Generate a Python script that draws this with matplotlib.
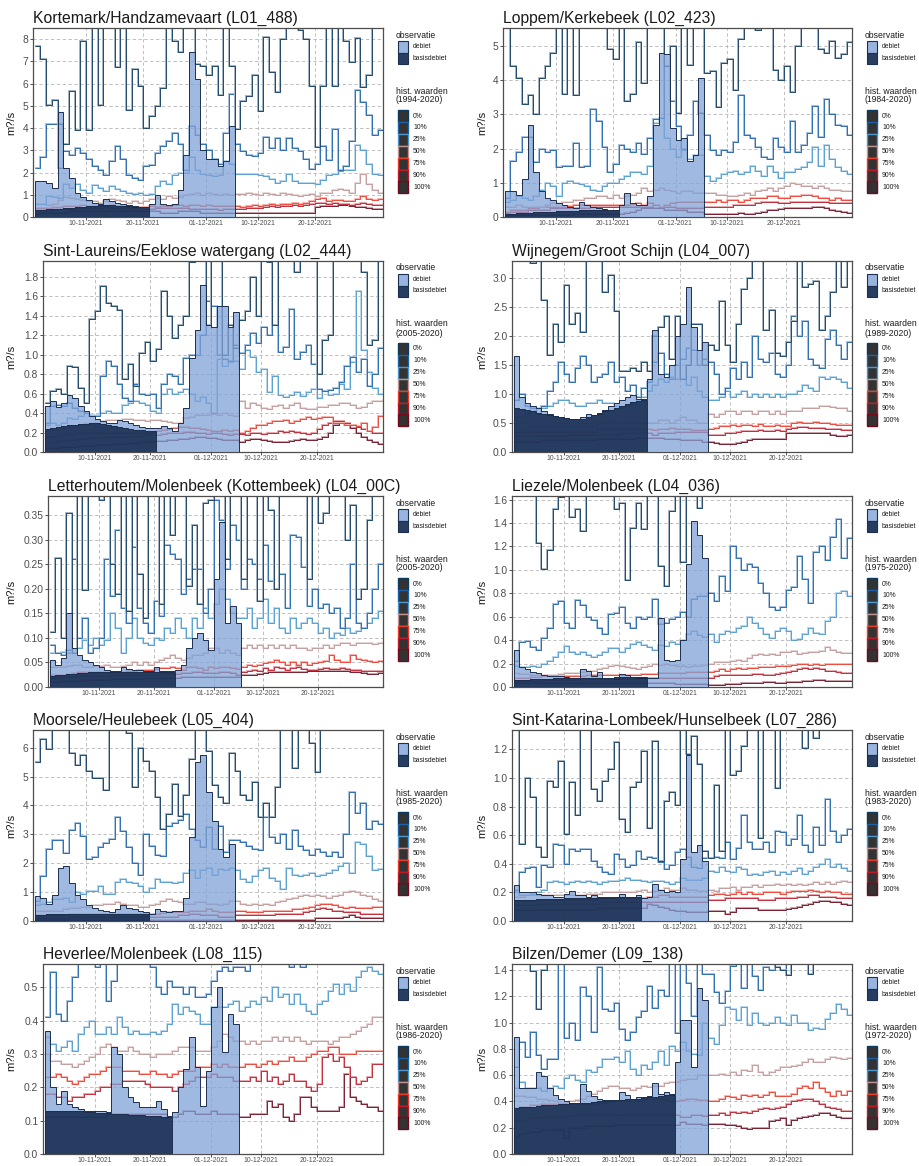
import numpy as np
import matplotlib
matplotlib.use('Agg')
import matplotlib.pyplot as plt
import matplotlib.patheffects as pe
from matplotlib.patches import Rectangle
from matplotlib.colors import to_rgb

plt.rcParams['font.family'] = ['Liberation Sans', 'DejaVu Sans']

# --- data -------------------------------------------------------------
start = np.datetime64('2021-11-01')
tick_dates = ['2021-11-10', '2021-11-20', '2021-12-01', '2021-12-10', '2021-12-20']
tick_labels = ['10-11-2021', '20-11-2021', '01-12-2021', '10-12-2021', '20-12-2021']
pct_labels = ['0%', '10%', '25%', '50%', '75%', '90%', '100%']

titles = ['Kortemark/Handzamevaart (L01_488)', 'Loppem/Kerkebeek (L02_423)',
          'Sint-Laureins/Eeklose watergang (L02_444)', 'Wijnegem/Groot Schijn (L04_007)',
          'Letterhoutem/Molenbeek (Kottembeek) (L04_00C)', 'Liezele/Molenbeek (L04_036)',
          'Moorsele/Heulebeek (L05_404)', 'Sint-Katarina-Lombeek/Hunselbeek (L07_286)',
          'Heverlee/Molenbeek (L08_115)', 'Bilzen/Demer (L09_138)']
hist_years = ['1994-2020', '1984-2020', '2005-2020', '1989-2020', '2005-2020',
              '1975-2020', '1985-2020', '1983-2020', '1986-2020', '1972-2020']

# L01_488
s488_q0 = [7.7, 7.1, 5.05, 5.25, 4.2, 3.3, 5.65, 3.9, 7.9, 3.9,
           10, 5.05, 10, 10, 6.75, 10, 4.8, 6.65, 5.9, 4.0,
           4.55, 5.0, 5.8, 10, 7.9, 7.4, 10, 10, 6.9, 6.8,
           6.4, 6.8, 5.5, 10, 6.8, 3.95, 5.2, 5.45, 6.4, 4.75,
           8.1, 6.5, 5.6, 8.0, 10, 8.5, 8.4, 8.0, 5.9, 3.15,
           5.9, 10, 5.9, 10, 7.9, 6.95, 8.05, 5.85, 6.4, 10, 10]
s488_q10 = [2.2, 2.7, 4.2, 4.2, 2.2, 2.95, 2.8, 3.1, 2.9, 2.6,
            2.3, 2.1, 1.9, 2.5, 3.2, 2.6, 1.9, 1.75, 1.65, 2.3,
            2.35, 2.9, 3.2, 3.4, 3.8, 3.3, 2.1, 4.1, 3.7, 3.3,
            3.0, 2.6, 2.4, 3.8, 5.55, 3.3, 2.95, 2.8, 2.75, 2.9,
            3.6, 3.1, 3.55, 3.0, 3.55, 3.1, 2.95, 2.6, 2.15, 2.4,
            3.2, 2.55, 3.95, 2.1, 2.3, 3.4, 5.7, 5.15, 4.6, 3.7, 3.9]
s488_q25 = [0.6, 0.6, 0.95, 0.9, 0.85, 1.5, 1.3, 1.5, 1.2, 1.1,
            1.45, 1.3, 1.15, 1.4, 1.25, 1.15, 1.1, 1.05, 1.1, 1.0,
            1.05, 1.4, 1.6, 1.5, 1.9, 2.0, 2.0, 2.7, 2.1, 1.95,
            1.9, 1.85, 1.9, 2.5, 2.4, 1.95, 1.95, 1.95, 1.95, 1.9,
            1.85, 1.7, 1.55, 1.6, 1.95, 1.6, 1.55, 1.55, 1.55, 1.5,
            1.65, 1.9, 1.95, 2.05, 2.1, 2.1, 3.25, 3.0, 2.4, 1.95, 1.9]
s488_q50 = [0.6, 0.6, 0.55, 0.6, 0.75, 0.9, 0.85, 0.8, 0.75, 0.7,
            0.7, 0.65, 0.7, 0.8, 0.75, 0.7, 0.65, 0.7, 0.65, 0.7,
            0.8, 0.85, 0.8, 0.95, 0.85, 0.9, 1.0, 1.05, 1.1, 1.0,
            1.1, 1.05, 1.0, 1.05, 1.0, 1.05, 1.05, 1.1, 1.05, 1.0,
            1.1, 1.05, 1.0, 1.1, 1.05, 1.0, 0.95, 1.0, 1.05, 0.95,
            1.1, 1.1, 1.2, 1.25, 1.2, 1.1, 1.55, 1.95, 1.5, 1.2, 1.1]
s488_q75 = [0.4, 0.4, 0.4, 0.45, 0.45, 0.5, 0.5, 0.5, 0.55, 0.5,
            0.5, 0.5, 0.5, 0.55, 0.5, 0.5, 0.45, 0.45, 0.45, 0.45,
            0.5, 0.45, 0.5, 0.5, 0.55, 0.55, 0.5, 0.55, 0.55, 0.5,
            0.55, 0.5, 0.5, 0.5, 0.5, 0.5, 0.45, 0.5, 0.55, 0.5,
            0.55, 0.6, 0.55, 0.6, 0.6, 0.65, 0.6, 0.65, 0.7, 0.8,
            0.85, 0.7, 0.75, 0.75, 0.7, 0.7, 0.8, 0.95, 0.8, 0.75, 0.8]
s488_q90 = [0.3, 0.3, 0.3, 0.35, 0.35, 0.35, 0.35, 0.4, 0.4, 0.4,
            0.4, 0.4, 0.45, 0.4, 0.4, 0.4, 0.35, 0.4, 0.4, 0.35,
            0.35, 0.4, 0.4, 0.4, 0.4, 0.4, 0.4, 0.35, 0.35, 0.35,
            0.35, 0.35, 0.3, 0.35, 0.35, 0.35, 0.35, 0.4, 0.4, 0.4,
            0.45, 0.5, 0.45, 0.5, 0.5, 0.55, 0.5, 0.55, 0.6, 0.65,
            0.65, 0.6, 0.65, 0.6, 0.6, 0.55, 0.6, 0.65, 0.6, 0.55, 0.55]
s488_q100 = [0.15, 0.2, 0.2, 0.2, 0.2, 0.2, 0.25, 0.25, 0.25, 0.25,
             0.25, 0.25, 0.25, 0.25, 0.25, 0.25, 0.25, 0.25, 0.25, 0.25,
             0.25, 0.25, 0.2, 0.2, 0.2, 0.25, 0.25, 0.25, 0.25, 0.2,
             0.2, 0.2, 0.2, 0.2, 0.2, 0.2, 0.2, 0.2, 0.2, 0.2,
             0.2, 0.2, 0.2, 0.2, 0.2, 0.2, 0.2, 0.2, 0.2, 0.45,
             0.5, 0.5, 0.5, 0.55, 0.55, 0.5, 0.45, 0.45, 0.4, 0.35, 0.35]
s488_debiet = [1.6, 1.6, 1.55, 1.3, 4.7, 2.2, 1.75, 1.1, 0.9, 0.75,
               0.65, 0.6, 0.8, 0.7, 0.65, 0.6, 0.55, 0.5, 0.45, 0.45,
               0.6, 1.0, 0.6, 0.55, 0.6, 1.2, 2.8, 7.4, 6.2, 3.0,
               2.6, 2.6, 2.3, 2.5, 4.1]
s488_basis = [0.3, 0.32, 0.34, 0.36, 0.38, 0.4, 0.42, 0.44, 0.46, 0.48,
              0.5, 0.52, 0.53, 0.52, 0.5, 0.49, 0.48, 0.47, 0.46, 0.45]

# L02_423
s423_q0 = [10, 4.4, 4.05, 3.3, 3.55, 3.0, 4.05, 4.4, 4.8, 10,
           3.6, 10, 3.55, 10, 10, 10, 10, 10, 4.9, 4.6,
           10, 3.4, 3.6, 5.1, 3.9, 10, 10, 10, 4.4, 5.0,
           3.05, 10, 4.45, 10, 10, 4.2, 4.25, 3.2, 4.5, 4.6,
           3.7, 5.2, 10, 10, 5.45, 10, 10, 4.3, 4.0, 4.4,
           3.65, 5.0, 10, 10, 10, 4.9, 4.8, 5.15, 4.65, 4.75, 5.1]
s423_q10 = [0.55, 1.65, 1.9, 2.35, 2.35, 1.6, 2.0, 1.9, 1.95, 1.45,
            1.5, 1.5, 2.15, 1.45, 1.5, 3.15, 2.8, 2.05, 1.3, 1.55,
            2.1, 2.0, 1.9, 2.15, 1.85, 2.3, 2.85, 2.9, 4.4, 3.4,
            2.65, 2.0, 2.4, 3.4, 3.05, 2.4, 1.95, 1.8, 1.95, 1.9,
            2.2, 3.55, 2.4, 2.3, 2.05, 1.75, 1.7, 2.3, 2.05, 1.9,
            2.8, 1.9, 2.1, 2.45, 3.25, 2.35, 3.45, 3.0, 2.7, 2.65, 2.4]
s423_q25 = [0.45, 0.5, 0.6, 0.55, 0.5, 0.6, 0.8, 1.0, 0.9, 0.6,
            1.0, 1.05, 1.0, 0.95, 0.9, 0.8, 0.75, 0.9, 1.0, 1.0,
            1.1, 1.2, 1.3, 1.3, 1.25, 1.5, 2.75, 2.9, 2.3, 2.0,
            1.75, 1.95, 1.7, 1.8, 1.8, 1.2, 1.05, 1.15, 1.25, 1.3,
            1.35, 1.25, 1.3, 1.5, 1.35, 1.2, 1.5, 1.3, 1.15, 1.3,
            1.3, 1.4, 1.45, 1.6, 2.05, 1.5, 2.1, 1.7, 1.45, 1.35, 1.25]
s423_q50 = [0.3, 0.3, 0.35, 0.3, 0.3, 0.3, 0.3, 0.35, 0.4, 0.4,
            0.45, 0.45, 0.5, 0.5, 0.55, 0.55, 0.6, 0.6, 0.55, 0.65,
            0.55, 0.6, 0.65, 0.7, 0.85, 0.75, 0.8, 0.85, 0.8, 0.75,
            0.7, 0.75, 0.75, 0.7, 0.7, 0.7, 0.7, 0.65, 0.65, 0.6,
            0.6, 0.65, 0.7, 0.65, 0.75, 0.8, 0.85, 0.75, 0.85, 0.9,
            1.0, 0.95, 0.9, 0.9, 0.85, 0.9, 0.85, 0.8, 0.8, 0.75, 0.75]
s423_q75 = [0.15, 0.2, 0.2, 0.2, 0.25, 0.25, 0.3, 0.3, 0.3, 0.3,
            0.3, 0.32, 0.35, 0.35, 0.35, 0.35, 0.35, 0.35, 0.35, 0.35,
            0.35, 0.35, 0.38, 0.4, 0.35, 0.4, 0.35, 0.3, 0.35, 0.4,
            0.45, 0.45, 0.45, 0.45, 0.45, 0.45, 0.45, 0.5, 0.45, 0.5,
            0.5, 0.45, 0.5, 0.55, 0.55, 0.55, 0.6, 0.6, 0.55, 0.55,
            0.6, 0.6, 0.65, 0.65, 0.6, 0.55, 0.55, 0.5, 0.55, 0.5, 0.5]
s423_q90 = [0.12, 0.15, 0.15, 0.15, 0.2, 0.2, 0.2, 0.2, 0.25, 0.25,
            0.25, 0.25, 0.25, 0.25, 0.25, 0.3, 0.3, 0.3, 0.3, 0.3,
            0.3, 0.3, 0.3, 0.3, 0.3, 0.3, 0.35, 0.3, 0.3, 0.3,
            0.25, 0.25, 0.25, 0.25, 0.25, 0.3, 0.3, 0.3, 0.3, 0.3,
            0.35, 0.35, 0.35, 0.35, 0.4, 0.45, 0.45, 0.45, 0.4, 0.4,
            0.45, 0.45, 0.45, 0.45, 0.45, 0.45, 0.45, 0.4, 0.4, 0.4, 0.4]
s423_q100 = [0.05, 0.05, 0.05, 0.05, 0.06, 0.06, 0.06, 0.06, 0.07, 0.07,
             0.07, 0.07, 0.08, 0.08, 0.08, 0.08, 0.08, 0.08, 0.08, 0.08,
             0.1, 0.12, 0.15, 0.2, 0.25, 0.25, 0.25, 0.25, 0.2, 0.2,
             0.2, 0.2, 0.15, 0.15, 0.15, 0.1, 0.08, 0.08, 0.08, 0.08,
             0.1, 0.12, 0.1, 0.1, 0.12, 0.15, 0.2, 0.2, 0.22, 0.25,
             0.25, 0.25, 0.25, 0.25, 0.3, 0.3, 0.25, 0.2, 0.18, 0.15, 0.12]
s423_debiet = [0.75, 0.75, 0.65, 1.1, 2.7, 1.3, 0.75, 0.55, 0.5, 0.4,
               0.35, 0.3, 0.25, 0.45, 0.35, 0.3, 0.25, 0.22, 0.2, 0.2,
               0.35, 0.7, 0.4, 0.35, 0.35, 0.6, 2.7, 4.8, 4.75, 2.6,
               2.25, 2.3, 1.65, 1.8, 4.05]
s423_basis = [0.1, 0.1, 0.11, 0.12, 0.13, 0.14, 0.15, 0.16, 0.16, 0.17,
              0.17, 0.18, 0.18, 0.19, 0.19, 0.2, 0.2, 0.2, 0.2, 0.2]

# L02_444
s444_q0 = [0.5, 0.63, 0.65, 0.6, 0.88, 0.87, 0.66, 0.5, 1.36, 1.45,
           1.7, 1.53, 1.5, 1.46, 0.75, 0.9, 0.68, 1.02, 1.13, 0.93,
           1.06, 1.65, 1.4, 1.17, 1.3, 1.4, 1.95, 10, 10, 1.3,
           10, 10, 1.0, 1.3, 1.07, 1.35, 1.45, 1.8, 1.4, 10,
           1.95, 1.3, 10, 10, 10, 1.85, 10, 10, 10, 0.8,
           1.15, 1.2, 10, 10, 10, 10, 10, 1.85, 1.1, 1.15, 10]
s444_q10 = [0.3, 0.47, 0.48, 0.47, 0.5, 0.45, 0.42, 0.4, 0.37, 0.37,
            0.78, 0.93, 0.88, 0.7, 0.55, 0.52, 0.7, 0.6, 0.58, 0.6,
            0.45, 0.7, 0.8, 0.78, 0.7, 0.96, 1.0, 1.0, 1.2, 1.55,
            1.5, 1.0, 0.95, 0.93, 1.1, 1.02, 1.1, 1.22, 1.12, 1.28,
            1.2, 1.3, 1.03, 1.08, 1.47, 0.95, 1.03, 1.1, 0.9, 0.65,
            0.63, 0.64, 0.66, 0.72, 0.88, 0.98, 0.82, 0.95, 0.68, 0.8, 1.07]
s444_q25 = [0.28, 0.3, 0.28, 0.3, 0.35, 0.34, 0.37, 0.4, 0.38, 0.38,
            0.4, 0.42, 0.4, 0.4, 0.48, 0.5, 0.52, 0.5, 0.48, 0.42,
            0.4, 0.6, 0.65, 0.6, 0.62, 0.65, 0.6, 0.52, 0.56, 0.5,
            0.4, 0.95, 0.88, 0.92, 0.93, 0.85, 1.05, 0.98, 0.82, 0.85,
            0.62, 0.78, 0.58, 0.56, 0.59, 0.62, 0.57, 0.62, 0.65, 0.55,
            0.63, 0.59, 0.6, 0.7, 0.65, 0.92, 1.65, 1.05, 0.82, 0.66, 0.6]
s444_q50 = [0.22, 0.23, 0.24, 0.25, 0.25, 0.27, 0.28, 0.3, 0.3, 0.3,
            0.32, 0.33, 0.33, 0.33, 0.34, 0.34, 0.33, 0.33, 0.32, 0.33,
            0.33, 0.32, 0.31, 0.3, 0.3, 0.35, 0.36, 0.38, 0.38, 0.38,
            0.39, 0.38, 0.4, 0.38, 0.37, 0.52, 0.45, 0.5, 0.48, 0.45,
            0.44, 0.47, 0.48, 0.45, 0.48, 0.5, 0.45, 0.44, 0.44, 0.46,
            0.46, 0.48, 0.48, 0.5, 0.5, 0.48, 0.45, 0.46, 0.5, 0.52, 0.52]
s444_q75 = [0.15, 0.15, 0.16, 0.17, 0.18, 0.18, 0.19, 0.2, 0.2, 0.2,
            0.2, 0.2, 0.2, 0.2, 0.2, 0.2, 0.2, 0.2, 0.2, 0.21,
            0.22, 0.23, 0.24, 0.25, 0.26, 0.26, 0.25, 0.25, 0.24, 0.23,
            0.22, 0.22, 0.23, 0.22, 0.23, 0.2, 0.22, 0.25, 0.28, 0.28,
            0.3, 0.32, 0.32, 0.33, 0.3, 0.32, 0.34, 0.36, 0.34, 0.35,
            0.36, 0.36, 0.3, 0.3, 0.28, 0.28, 0.27, 0.3, 0.22, 0.26, 0.37]
s444_q90 = [0.1, 0.1, 0.11, 0.11, 0.12, 0.12, 0.13, 0.13, 0.14, 0.14,
            0.14, 0.15, 0.15, 0.15, 0.15, 0.15, 0.16, 0.16, 0.17, 0.17,
            0.17, 0.18, 0.19, 0.2, 0.2, 0.21, 0.21, 0.2, 0.19, 0.18,
            0.2, 0.2, 0.18, 0.17, 0.18, 0.18, 0.17, 0.19, 0.2, 0.18,
            0.19, 0.2, 0.22, 0.21, 0.22, 0.21, 0.19, 0.18, 0.2, 0.24,
            0.28, 0.3, 0.32, 0.32, 0.3, 0.28, 0.26, 0.24, 0.22, 0.2, 0.2]
s444_q100 = [0.04, 0.04, 0.04, 0.05, 0.05, 0.05, 0.06, 0.06, 0.06, 0.07,
             0.07, 0.07, 0.08, 0.08, 0.08, 0.09, 0.09, 0.1, 0.1, 0.1,
             0.11, 0.11, 0.12, 0.12, 0.13, 0.13, 0.14, 0.15, 0.15, 0.14,
             0.14, 0.13, 0.12, 0.12, 0.12, 0.1, 0.12, 0.13, 0.13, 0.12,
             0.11, 0.1, 0.1, 0.1, 0.11, 0.12, 0.13, 0.12, 0.12, 0.13,
             0.15, 0.2, 0.28, 0.3, 0.3, 0.25, 0.2, 0.15, 0.12, 0.1, 0.08]
s444_debiet = [0.47, 0.52, 0.46, 0.5, 0.58, 0.55, 0.47, 0.42, 0.37, 0.34,
               0.32, 0.3, 0.3, 0.33, 0.32, 0.3, 0.28, 0.26, 0.25, 0.25,
               0.25, 0.27, 0.25, 0.22, 0.3, 0.45, 0.96, 1.25, 1.71, 1.3,
               1.28, 1.5, 1.5, 1.28, 1.44]
s444_basis = [0.24, 0.25, 0.26, 0.27, 0.28, 0.28, 0.29, 0.29, 0.3, 0.3,
              0.29, 0.28, 0.27, 0.26, 0.25, 0.24, 0.23, 0.23, 0.22, 0.22]

# L04_007
s007_q0 = [10, 10, 10, 3.25, 10, 2.62, 1.67, 2.2, 1.9, 2.87,
           2.2, 2.4, 2.07, 10, 10, 10, 2.75, 3.05, 2.43, 1.4,
           1.4, 1.45, 1.4, 1.55, 1.4, 2.0, 2.15, 2.35, 1.6, 2.35,
           1.25, 1.5, 2.2, 2.2, 1.5, 1.85, 1.75, 2.6, 1.85, 1.55,
           2.2, 2.8, 3.0, 10, 10, 2.1, 2.45, 1.7, 1.65, 1.9,
           2.25, 10, 2.85, 2.9, 2.95, 2.1, 2.35, 2.75, 10, 2.85, 10]
s007_q10 = [0.9, 1.0, 0.8, 0.75, 0.65, 0.8, 1.05, 1.2, 1.55, 1.35,
            1.2, 1.45, 1.65, 1.5, 1.2, 1.3, 1.35, 1.55, 1.2, 1.3,
            1.05, 1.15, 0.95, 1.1, 1.2, 1.55, 1.7, 1.35, 1.25, 1.5,
            1.6, 1.8, 1.75, 1.5, 1.6, 1.55, 1.35, 1.0, 1.1, 1.45,
            1.25, 1.55, 1.3, 2.0, 1.6, 1.55, 1.7, 1.35, 1.3, 1.5,
            2.35, 2.0, 2.25, 1.6, 1.5, 1.45, 1.95, 2.1, 1.85, 1.6, 1.9]
s007_q25 = [0.6, 0.6, 0.65, 0.7, 0.75, 0.75, 0.8, 0.85, 0.9, 0.9,
            0.85, 0.8, 0.8, 0.85, 0.85, 0.9, 0.85, 0.85, 0.8, 0.75,
            0.8, 0.85, 0.9, 0.95, 1.05, 1.15, 1.25, 1.2, 1.3, 1.25,
            1.25, 1.15, 1.3, 1.05, 0.95, 0.9, 0.9, 0.95, 1.05, 0.95,
            1.0, 1.05, 0.95, 1.0, 0.95, 1.0, 0.95, 1.0, 0.95, 1.0,
            1.0, 1.05, 1.15, 1.1, 1.05, 1.3, 1.25, 1.3, 1.25, 1.2, 1.1]
s007_q50 = [0.5, 0.5, 0.5, 0.45, 0.45, 0.45, 0.45, 0.45, 0.45, 0.5,
            0.45, 0.45, 0.5, 0.45, 0.45, 0.5, 0.5, 0.55, 0.5, 0.5,
            0.5, 0.5, 0.5, 0.5, 0.5, 0.5, 0.55, 0.55, 0.5, 0.55,
            0.6, 0.55, 0.55, 0.5, 0.5, 0.65, 0.6, 0.65, 0.7, 0.7,
            0.65, 0.7, 0.7, 0.65, 0.7, 0.7, 0.65, 0.7, 0.65, 0.7,
            0.7, 0.7, 0.75, 0.75, 0.75, 0.8, 0.8, 0.78, 0.75, 0.75, 0.7]
s007_q75 = [0.35, 0.35, 0.35, 0.35, 0.35, 0.35, 0.35, 0.35, 0.35, 0.35,
            0.35, 0.35, 0.35, 0.35, 0.35, 0.4, 0.4, 0.4, 0.4, 0.4,
            0.4, 0.4, 0.4, 0.4, 0.4, 0.38, 0.4, 0.4, 0.42, 0.4,
            0.4, 0.4, 0.38, 0.38, 0.38, 0.4, 0.42, 0.45, 0.45, 0.47,
            0.45, 0.47, 0.47, 0.45, 0.48, 0.45, 0.45, 0.47, 0.45, 0.45,
            0.5, 0.52, 0.5, 0.5, 0.52, 0.5, 0.5, 0.48, 0.47, 0.47, 0.47]
s007_q90 = [0.28, 0.28, 0.28, 0.28, 0.28, 0.28, 0.28, 0.28, 0.28, 0.28,
            0.3, 0.3, 0.3, 0.3, 0.3, 0.3, 0.3, 0.3, 0.3, 0.32,
            0.32, 0.32, 0.33, 0.35, 0.32, 0.3, 0.32, 0.32, 0.33, 0.35,
            0.35, 0.35, 0.35, 0.35, 0.35, 0.3, 0.3, 0.3, 0.32, 0.33,
            0.35, 0.37, 0.36, 0.37, 0.38, 0.36, 0.37, 0.38, 0.37, 0.4,
            0.42, 0.43, 0.43, 0.42, 0.42, 0.42, 0.4, 0.4, 0.4, 0.38, 0.38]
s007_q100 = [0.18, 0.18, 0.18, 0.18, 0.18, 0.2, 0.2, 0.2, 0.2, 0.2,
             0.2, 0.2, 0.2, 0.2, 0.2, 0.22, 0.22, 0.22, 0.22, 0.22,
             0.22, 0.22, 0.24, 0.24, 0.24, 0.24, 0.24, 0.22, 0.22, 0.22,
             0.2, 0.2, 0.2, 0.2, 0.18, 0.17, 0.15, 0.13, 0.13, 0.13,
             0.15, 0.17, 0.2, 0.22, 0.22, 0.22, 0.22, 0.22, 0.22, 0.32,
             0.33, 0.33, 0.33, 0.32, 0.32, 0.32, 0.32, 0.3, 0.28, 0.28, 0.3]
s007_debiet = [1.65, 0.95, 0.85, 0.8, 0.75, 0.7, 0.66, 0.62, 0.6, 0.58,
               0.57, 0.56, 0.6, 0.66, 0.63, 0.68, 0.72, 0.8, 0.85, 0.9,
               0.95, 0.98, 0.92, 0.92, 1.25, 2.1, 1.35, 1.3, 1.5, 2.0,
               2.2, 2.85, 2.15, 1.75, 1.9]
s007_basis = [0.75, 0.74, 0.72, 0.7, 0.68, 0.66, 0.64, 0.62, 0.6, 0.58,
              0.57, 0.56, 0.57, 0.6, 0.63, 0.66, 0.7, 0.73, 0.76, 0.8,
              0.83, 0.86, 0.88, 0.9]

# L04_00C
s00c_q0 = [0.112, 0.262, 0.1, 0.355, 0.07, 0.39, 0.197, 0.5, 0.5, 0.38,
           0.5, 0.25, 0.19, 0.5, 0.155, 0.5, 0.23, 0.14, 0.5, 0.5,
           0.17, 0.5, 0.31, 0.5, 0.5, 0.205, 0.33, 0.17, 0.375, 0.38,
           0.5, 0.5, 0.26, 0.5, 0.5, 0.22, 0.5, 0.5, 0.175, 0.5,
           0.36, 0.2, 0.5, 0.5, 0.5, 0.5, 0.5, 0.22, 0.5, 0.335,
           0.355, 0.5, 0.5, 0.5, 0.3, 0.37, 0.18, 0.2, 0.34, 0.5, 0.5]
s00c_q10 = [0.085, 0.07, 0.065, 0.075, 0.26, 0.1, 0.14, 0.07, 0.08, 0.1,
            0.26, 0.185, 0.32, 0.16, 0.13, 0.285, 0.16, 0.13, 0.11, 0.175,
            0.145, 0.29, 0.27, 0.26, 0.19, 0.22, 0.24, 0.24, 0.15, 0.2,
            0.38, 0.34, 0.24, 0.33, 0.3, 0.2, 0.26, 0.25, 0.22, 0.29,
            0.215, 0.2, 0.23, 0.16, 0.31, 0.305, 0.245, 0.165, 0.2, 0.16,
            0.17, 0.15, 0.16, 0.12, 0.14, 0.25, 0.13, 0.12, 0.15, 0.2, 0.25]
s00c_q25 = [0.07, 0.07, 0.072, 0.07, 0.07, 0.08, 0.095, 0.085, 0.1, 0.085,
            0.095, 0.15, 0.12, 0.07, 0.1, 0.14, 0.1, 0.09, 0.085, 0.1,
            0.095, 0.12, 0.11, 0.14, 0.12, 0.1, 0.14, 0.12, 0.16, 0.14,
            0.17, 0.2, 0.18, 0.15, 0.14, 0.14, 0.16, 0.12, 0.14, 0.18,
            0.13, 0.16, 0.12, 0.11, 0.14, 0.12, 0.13, 0.14, 0.13, 0.11,
            0.12, 0.1, 0.11, 0.105, 0.12, 0.11, 0.115, 0.12, 0.13, 0.14, 0.155]
s00c_q50 = [0.04, 0.04, 0.04, 0.042, 0.045, 0.045, 0.04, 0.04, 0.042, 0.042,
            0.045, 0.04, 0.04, 0.042, 0.045, 0.05, 0.045, 0.05, 0.045, 0.05,
            0.055, 0.06, 0.065, 0.06, 0.055, 0.06, 0.065, 0.065, 0.07, 0.08,
            0.08, 0.07, 0.075, 0.07, 0.065, 0.08, 0.085, 0.08, 0.085, 0.08,
            0.085, 0.08, 0.085, 0.08, 0.085, 0.08, 0.08, 0.075, 0.08, 0.08,
            0.085, 0.08, 0.085, 0.09, 0.09, 0.085, 0.09, 0.09, 0.09, 0.088, 0.09]
s00c_q75 = [0.025, 0.025, 0.025, 0.027, 0.028, 0.03, 0.03, 0.03, 0.03, 0.03,
            0.03, 0.03, 0.03, 0.03, 0.032, 0.033, 0.035, 0.035, 0.035, 0.037,
            0.038, 0.038, 0.04, 0.038, 0.035, 0.04, 0.04, 0.038, 0.035, 0.04,
            0.038, 0.04, 0.04, 0.038, 0.036, 0.04, 0.045, 0.042, 0.045, 0.048,
            0.05, 0.055, 0.05, 0.045, 0.05, 0.045, 0.05, 0.045, 0.048, 0.05,
            0.052, 0.065, 0.055, 0.05, 0.05, 0.065, 0.058, 0.055, 0.052, 0.05, 0.053]
s00c_q90 = [0.018, 0.018, 0.02, 0.02, 0.02, 0.022, 0.022, 0.022, 0.023, 0.023,
            0.023, 0.024, 0.024, 0.025, 0.025, 0.025, 0.025, 0.025, 0.025, 0.025,
            0.026, 0.026, 0.027, 0.027, 0.028, 0.028, 0.03, 0.03, 0.028, 0.028,
            0.028, 0.03, 0.03, 0.028, 0.025, 0.03, 0.033, 0.035, 0.033, 0.038,
            0.035, 0.04, 0.038, 0.035, 0.038, 0.04, 0.037, 0.035, 0.035, 0.037,
            0.038, 0.036, 0.037, 0.038, 0.036, 0.035, 0.035, 0.033, 0.033, 0.032, 0.032]
s00c_q100 = [0.01, 0.01, 0.012, 0.012, 0.013, 0.013, 0.014, 0.014, 0.015, 0.015,
             0.015, 0.016, 0.016, 0.016, 0.017, 0.017, 0.017, 0.018, 0.018, 0.018,
             0.018, 0.018, 0.019, 0.019, 0.02, 0.02, 0.02, 0.02, 0.02, 0.02,
             0.02, 0.02, 0.02, 0.02, 0.02, 0.024, 0.025, 0.025, 0.026, 0.028,
             0.03, 0.03, 0.03, 0.03, 0.03, 0.03, 0.03, 0.032, 0.032, 0.032,
             0.032, 0.032, 0.033, 0.033, 0.032, 0.03, 0.03, 0.028, 0.027, 0.027, 0.028]
s00c_debiet = [0.055, 0.045, 0.06, 0.15, 0.08, 0.065, 0.055, 0.05, 0.045, 0.04,
               0.035, 0.033, 0.033, 0.04, 0.037, 0.035, 0.034, 0.033, 0.033, 0.04,
               0.033, 0.033, 0.033, 0.035, 0.045, 0.08, 0.1, 0.11, 0.095, 0.075,
               0.22, 0.337, 0.13, 0.165, 0.13]
s00c_basis = [0.023, 0.024, 0.025, 0.026, 0.027, 0.028, 0.029, 0.03, 0.031, 0.031,
              0.031, 0.031, 0.031, 0.031, 0.031, 0.031, 0.031, 0.031, 0.031, 0.031,
              0.031, 0.031, 0.031]

# L04_036
s036_q0 = [10, 10, 10, 10, 1.23, 1.01, 1.17, 1.52, 1.62, 10,
           1.45, 1.52, 1.33, 10, 10, 10, 10, 10, 1.52, 1.57,
           0.91, 1.36, 1.57, 1.35, 10, 10, 1.03, 0.86, 1.5, 10,
           1.07, 10, 10, 1.53, 10, 10, 10, 10, 10, 10,
           1.9, 2.1, 2.0, 1.8, 2.2, 2.4, 2.0, 1.9, 2.3, 2.1,
           2.5, 2.2, 2.0, 2.6, 2.3, 2.4, 2.1, 2.7, 2.5, 2.2, 2.3]
s036_q10 = [0.22, 0.38, 0.39, 0.34, 0.32, 0.42, 0.5, 0.71, 0.73, 0.55,
            0.5, 0.74, 0.7, 0.6, 0.57, 0.5, 0.45, 0.62, 0.63, 0.68,
            0.55, 0.5, 0.6, 0.58, 0.6, 0.75, 0.54, 0.55, 0.58, 0.6,
            0.64, 0.6, 0.75, 0.78, 0.78, 0.8, 0.73, 0.95, 0.82, 1.2,
            1.1, 1.0, 1.05, 1.02, 0.89, 0.8, 0.68, 0.66, 0.68, 0.83,
            0.85, 1.12, 0.92, 0.72, 1.15, 1.2, 1.08, 1.28, 1.43, 1.1, 1.27]
s036_q25 = [0.18, 0.17, 0.17, 0.18, 0.17, 0.2, 0.22, 0.26, 0.3, 0.35,
            0.3, 0.28, 0.3, 0.27, 0.26, 0.27, 0.3, 0.33, 0.33, 0.3,
            0.33, 0.37, 0.38, 0.36, 0.34, 0.32, 0.36, 0.35, 0.38, 0.37,
            0.4, 0.45, 0.48, 0.44, 0.43, 0.45, 0.38, 0.45, 0.48, 0.47,
            0.5, 0.52, 0.6, 0.55, 0.5, 0.45, 0.42, 0.48, 0.5, 0.48,
            0.4, 0.41, 0.45, 0.5, 0.46, 0.45, 0.56, 0.6, 0.8, 0.82, 0.78]
s036_q50 = [0.12, 0.11, 0.11, 0.1, 0.1, 0.1, 0.1, 0.1, 0.11, 0.12,
            0.12, 0.12, 0.13, 0.14, 0.14, 0.15, 0.16, 0.18, 0.19, 0.18,
            0.17, 0.16, 0.15, 0.17, 0.18, 0.2, 0.19, 0.2, 0.19, 0.18,
            0.18, 0.17, 0.18, 0.18, 0.19, 0.2, 0.21, 0.21, 0.21, 0.22,
            0.23, 0.22, 0.25, 0.27, 0.28, 0.27, 0.28, 0.27, 0.3, 0.3,
            0.31, 0.28, 0.29, 0.3, 0.3, 0.31, 0.34, 0.32, 0.3, 0.29, 0.29]
s036_q75 = [0.08, 0.08, 0.08, 0.085, 0.085, 0.09, 0.09, 0.09, 0.09, 0.09,
            0.09, 0.09, 0.09, 0.1, 0.1, 0.1, 0.1, 0.1, 0.1, 0.1,
            0.1, 0.1, 0.1, 0.11, 0.11, 0.11, 0.12, 0.12, 0.12, 0.12,
            0.12, 0.13, 0.13, 0.13, 0.13, 0.13, 0.14, 0.15, 0.14, 0.15,
            0.16, 0.15, 0.16, 0.16, 0.17, 0.17, 0.17, 0.18, 0.18, 0.18,
            0.19, 0.2, 0.2, 0.19, 0.2, 0.19, 0.2, 0.2, 0.2, 0.2, 0.2]
s036_q90 = [0.05, 0.05, 0.05, 0.055, 0.055, 0.06, 0.06, 0.06, 0.06, 0.06,
            0.06, 0.06, 0.065, 0.065, 0.065, 0.07, 0.07, 0.07, 0.07, 0.07,
            0.07, 0.07, 0.075, 0.075, 0.075, 0.08, 0.08, 0.08, 0.08, 0.08,
            0.08, 0.08, 0.08, 0.08, 0.08, 0.08, 0.09, 0.1, 0.1, 0.1,
            0.1, 0.1, 0.1, 0.11, 0.11, 0.1, 0.1, 0.11, 0.12, 0.13,
            0.14, 0.15, 0.16, 0.15, 0.16, 0.15, 0.14, 0.14, 0.13, 0.12, 0.12]
s036_q100 = [0.03, 0.03, 0.03, 0.03, 0.03, 0.03, 0.03, 0.03, 0.03, 0.03,
             0.03, 0.03, 0.03, 0.03, 0.03, 0.03, 0.03, 0.03, 0.03, 0.03,
             0.03, 0.03, 0.03, 0.03, 0.03, 0.03, 0.03, 0.03, 0.03, 0.025,
             0.025, 0.025, 0.025, 0.025, 0.025, 0.02, 0.02, 0.02, 0.025, 0.025,
             0.025, 0.03, 0.03, 0.03, 0.035, 0.04, 0.04, 0.035, 0.035, 0.04,
             0.04, 0.045, 0.05, 0.055, 0.06, 0.06, 0.055, 0.055, 0.05, 0.05, 0.05]
s036_debiet = [0.32, 0.17, 0.15, 0.13, 0.12, 0.1, 0.095, 0.09, 0.09, 0.085,
               0.08, 0.075, 0.15, 0.14, 0.09, 0.13, 0.08, 0.075, 0.07, 0.11,
               0.1, 0.085, 0.08, 0.08, 0.08, 0.08, 0.59, 0.23, 0.22, 0.23,
               0.4, 1.05, 1.42, 1.3, 1.1]
s036_basis = [0.06, 0.062, 0.064, 0.066, 0.068, 0.07, 0.072, 0.074, 0.075, 0.076,
              0.077, 0.078, 0.078, 0.079, 0.08, 0.08, 0.08, 0.081, 0.082, 0.083,
              0.084, 0.085, 0.086, 0.087]

# L05_404
s404_q0 = [5.5, 6.3, 5.95, 10, 10, 10, 5.8, 5.4, 5.75, 5.2,
           4.95, 4.95, 4.55, 10, 10, 10, 6.5, 4.65, 6.0, 5.55,
           5.2, 4.3, 3.2, 3.7, 4.75, 3.65, 4.35, 5.6, 10, 10,
           5.9, 4.7, 4.3, 4.1, 5.8, 5.2, 4.35, 4.2, 4.8, 3.6,
           4.1, 3.6, 4.65, 10, 10, 5.3, 10, 10, 6.15, 5.15,
           10, 10, 10, 10, 10, 10, 10, 10, 10, 10, 10]
s404_q10 = [0.7, 1.55, 2.5, 2.8, 2.8, 2.35, 3.15, 3.4, 2.95, 2.15,
            2.2, 2.55, 2.7, 2.85, 3.6, 3.1, 2.55, 2.0, 1.6, 3.0,
            2.6, 2.3, 2.25, 3.3, 3.4, 3.5, 3.7, 3.2, 2.8, 2.55,
            3.25, 2.5, 3.3, 2.4, 2.8, 2.8, 2.75, 2.6, 2.5, 2.45,
            3.6, 2.9, 2.7, 3.0, 2.5, 3.15, 2.6, 2.45, 2.3, 2.5,
            2.4, 2.25, 2.4, 2.2, 3.0, 4.45, 3.75, 4.1, 3.2, 3.45, 3.35]
s404_q25 = [0.55, 0.6, 0.65, 0.75, 0.75, 0.8, 0.65, 1.0, 0.95, 1.05,
            1.05, 1.2, 0.95, 0.95, 1.35, 1.45, 1.35, 1.3, 1.2, 1.0,
            1.15, 1.45, 1.35, 1.35, 1.3, 1.35, 1.65, 1.75, 1.5, 1.75,
            1.85, 1.6, 1.8, 1.75, 1.85, 1.75, 1.45, 1.35, 1.55, 1.75,
            1.85, 1.5, 1.4, 1.1, 1.85, 1.6, 1.55, 1.6, 1.65, 1.55,
            1.6, 1.65, 1.75, 1.9, 2.0, 1.65, 2.75, 2.65, 2.25, 1.75, 1.8]
s404_q50 = [0.35, 0.35, 0.35, 0.35, 0.35, 0.4, 0.45, 0.45, 0.5, 0.5,
            0.55, 0.55, 0.6, 0.6, 0.65, 0.6, 0.55, 0.55, 0.5, 0.5,
            0.55, 0.6, 0.7, 0.75, 0.7, 0.65, 0.6, 0.6, 0.65, 0.65,
            0.6, 0.6, 0.55, 0.6, 0.7, 0.7, 0.6, 0.55, 0.6, 0.55,
            0.6, 0.55, 0.65, 0.7, 0.75, 0.8, 0.85, 0.9, 0.85, 0.9,
            0.85, 0.8, 0.85, 0.9, 1.0, 1.05, 1.0, 0.9, 0.85, 0.75, 0.7]
s404_q75 = [0.2, 0.2, 0.2, 0.2, 0.22, 0.22, 0.25, 0.25, 0.25, 0.25,
            0.25, 0.25, 0.25, 0.25, 0.25, 0.25, 0.25, 0.25, 0.25, 0.25,
            0.25, 0.25, 0.28, 0.3, 0.3, 0.3, 0.3, 0.35, 0.35, 0.35,
            0.4, 0.35, 0.3, 0.3, 0.3, 0.35, 0.35, 0.3, 0.3, 0.3,
            0.35, 0.35, 0.35, 0.35, 0.35, 0.4, 0.4, 0.45, 0.5, 0.55,
            0.6, 0.6, 0.55, 0.5, 0.45, 0.5, 0.45, 0.45, 0.45, 0.5, 0.5]
s404_q90 = [0.1, 0.1, 0.1, 0.12, 0.12, 0.12, 0.15, 0.15, 0.15, 0.15,
            0.15, 0.15, 0.15, 0.15, 0.15, 0.15, 0.15, 0.15, 0.15, 0.15,
            0.15, 0.15, 0.15, 0.15, 0.15, 0.2, 0.2, 0.25, 0.25, 0.2,
            0.2, 0.2, 0.15, 0.15, 0.15, 0.2, 0.2, 0.2, 0.2, 0.2,
            0.2, 0.2, 0.25, 0.25, 0.25, 0.25, 0.25, 0.3, 0.35, 0.4,
            0.45, 0.4, 0.35, 0.35, 0.3, 0.3, 0.3, 0.25, 0.25, 0.25, 0.25]
s404_q100 = [0.03, 0.03, 0.03, 0.03, 0.03, 0.04, 0.04, 0.04, 0.04, 0.04,
             0.05, 0.05, 0.05, 0.05, 0.05, 0.05, 0.05, 0.05, 0.05, 0.05,
             0.05, 0.05, 0.05, 0.05, 0.05, 0.05, 0.05, 0.05, 0.05, 0.05,
             0.05, 0.05, 0.05, 0.05, 0.05, 0.05, 0.05, 0.05, 0.05, 0.05,
             0.05, 0.05, 0.05, 0.05, 0.05, 0.05, 0.05, 0.05, 0.05, 0.1,
             0.1, 0.1, 0.1, 0.1, 0.15, 0.2, 0.15, 0.1, 0.1, 0.1, 0.1]
s404_debiet = [0.85, 0.8, 0.6, 0.9, 1.85, 1.9, 1.3, 0.9, 0.75, 0.55,
               0.45, 0.38, 0.33, 0.3, 0.4, 0.55, 0.45, 0.4, 0.35, 0.3,
               0.25, 0.4, 0.35, 0.3, 0.35, 0.35, 0.8, 2.9, 5.5, 5.75,
               4.45, 3.45, 2.5, 2.2, 2.65]
s404_basis = [0.22, 0.22, 0.23, 0.23, 0.24, 0.24, 0.25, 0.25, 0.25, 0.25,
              0.25, 0.25, 0.25, 0.25, 0.25, 0.25, 0.25, 0.25, 0.25, 0.25]

# L07_286
s286_q0 = [10, 0.54, 1.0, 0.87, 0.52, 0.45, 0.98, 0.94, 1.12, 0.61,
           0.97, 0.74, 10, 10, 0.92, 0.84, 0.98, 1.06, 1.25, 0.71,
           0.62, 0.94, 0.97, 1.19, 0.65, 1.26, 0.42, 0.84, 0.9, 0.81,
           10, 1.17, 1.29, 1.1, 0.49, 0.44, 0.95, 0.49, 10, 1.02,
           1.05, 1.22, 10, 10, 0.58, 10, 10, 0.93, 10, 10,
           10, 10, 1.21, 10, 1.28, 10, 10, 10, 10, 10, 10]
s286_q10 = [0.22, 0.34, 0.37, 0.38, 0.24, 0.39, 0.38, 0.54, 0.53, 0.4,
            0.5, 0.49, 0.5, 0.5, 0.42, 0.38, 0.34, 0.33, 0.47, 0.43,
            0.38, 0.39, 0.49, 0.43, 0.45, 0.44, 0.41, 0.36, 0.39, 0.48,
            0.5, 0.45, 0.38, 0.37, 0.44, 0.44, 0.45, 0.44, 0.55, 0.43,
            0.51, 0.74, 0.55, 0.5, 0.5, 0.55, 0.48, 0.63, 0.62, 0.53,
            0.57, 0.74, 0.53, 0.48, 0.66, 0.53, 0.85, 0.63, 0.55, 0.6, 0.64]
s286_q25 = [0.2, 0.18, 0.18, 0.19, 0.2, 0.22, 0.27, 0.28, 0.27, 0.26,
            0.27, 0.28, 0.27, 0.28, 0.27, 0.26, 0.27, 0.28, 0.28, 0.29,
            0.3, 0.29, 0.29, 0.28, 0.27, 0.28, 0.28, 0.27, 0.26, 0.27,
            0.3, 0.29, 0.29, 0.29, 0.3, 0.35, 0.34, 0.38, 0.35, 0.34,
            0.38, 0.36, 0.32, 0.33, 0.32, 0.34, 0.35, 0.32, 0.34, 0.33,
            0.35, 0.37, 0.33, 0.35, 0.38, 0.4, 0.43, 0.38, 0.4, 0.37, 0.35]
s286_q50 = [0.17, 0.17, 0.18, 0.18, 0.18, 0.18, 0.18, 0.18, 0.18, 0.18,
            0.18, 0.18, 0.18, 0.19, 0.19, 0.19, 0.2, 0.2, 0.2, 0.2,
            0.2, 0.2, 0.21, 0.22, 0.2, 0.21, 0.22, 0.23, 0.22, 0.22,
            0.23, 0.22, 0.22, 0.21, 0.21, 0.22, 0.21, 0.23, 0.23, 0.24,
            0.22, 0.24, 0.24, 0.25, 0.24, 0.25, 0.25, 0.26, 0.25, 0.26,
            0.25, 0.26, 0.25, 0.26, 0.27, 0.26, 0.27, 0.26, 0.27, 0.28, 0.27]
s286_q75 = [0.14, 0.14, 0.14, 0.14, 0.15, 0.15, 0.15, 0.15, 0.15, 0.15,
            0.15, 0.15, 0.15, 0.15, 0.15, 0.16, 0.16, 0.16, 0.16, 0.16,
            0.16, 0.16, 0.16, 0.16, 0.17, 0.17, 0.18, 0.18, 0.17, 0.17,
            0.17, 0.17, 0.17, 0.17, 0.17, 0.18, 0.19, 0.19, 0.18, 0.19,
            0.2, 0.19, 0.2, 0.19, 0.19, 0.2, 0.2, 0.2, 0.19, 0.2,
            0.21, 0.21, 0.21, 0.22, 0.21, 0.2, 0.21, 0.2, 0.2, 0.19, 0.19]
s286_q90 = [0.11, 0.11, 0.11, 0.11, 0.12, 0.12, 0.12, 0.12, 0.12, 0.12,
            0.12, 0.12, 0.12, 0.12, 0.12, 0.12, 0.13, 0.13, 0.13, 0.13,
            0.13, 0.13, 0.13, 0.13, 0.13, 0.13, 0.13, 0.13, 0.13, 0.13,
            0.13, 0.13, 0.13, 0.13, 0.13, 0.15, 0.15, 0.15, 0.16, 0.16,
            0.16, 0.16, 0.16, 0.16, 0.15, 0.15, 0.15, 0.16, 0.16, 0.16,
            0.16, 0.17, 0.17, 0.18, 0.18, 0.17, 0.17, 0.17, 0.16, 0.16, 0.16]
s286_q100 = [0.08, 0.08, 0.08, 0.08, 0.08, 0.08, 0.08, 0.08, 0.08, 0.08,
             0.08, 0.08, 0.08, 0.08, 0.08, 0.09, 0.09, 0.09, 0.09, 0.09,
             0.09, 0.09, 0.09, 0.09, 0.12, 0.11, 0.1, 0.09, 0.08, 0.07,
             0.07, 0.06, 0.06, 0.06, 0.06, 0.07, 0.07, 0.07, 0.05, 0.06,
             0.09, 0.09, 0.09, 0.09, 0.08, 0.08, 0.08, 0.075, 0.08, 0.085,
             0.09, 0.1, 0.11, 0.12, 0.13, 0.14, 0.14, 0.13, 0.13, 0.12, 0.11]
s286_debiet = [0.25, 0.2, 0.2, 0.2, 0.19, 0.18, 0.18, 0.17, 0.17, 0.19,
               0.21, 0.18, 0.18, 0.17, 0.18, 0.17, 0.17, 0.17, 0.17, 0.19,
               0.17, 0.17, 0.18, 0.16, 0.17, 0.26, 0.22, 0.2, 0.21, 0.2,
               0.43, 1.16, 0.48, 0.53, 0.42]
s286_basis = [0.15, 0.15, 0.15, 0.15, 0.155, 0.155, 0.155, 0.155, 0.155, 0.16,
              0.16, 0.16, 0.16, 0.16, 0.16, 0.16, 0.16, 0.16, 0.165, 0.165,
              0.165, 0.165, 0.165]

# L08_115
s115_q0 = [0.75, 0.8, 0.7, 0.72, 0.78, 0.85, 0.9, 0.82, 0.76, 0.8,
           0.88, 0.7, 0.75, 0.85, 0.9, 0.8, 0.78, 0.82, 0.86, 0.8,
           0.74, 0.7, 0.76, 0.8, 0.84, 0.72, 0.7, 0.68, 0.74, 0.8,
           0.82, 0.9, 0.85, 0.8, 0.78, 0.8, 0.76, 0.84, 0.88, 0.9,
           0.86, 0.82, 0.8, 0.85, 0.9, 0.95, 0.88, 0.84, 0.86, 0.9,
           0.92, 0.88, 0.86, 0.9, 0.95, 0.9, 0.88, 0.92, 0.9, 0.86, 0.88]
s115_q10 = [0.41, 0.545, 0.42, 0.4, 0.46, 0.53, 0.57, 0.6, 0.6, 0.56,
            0.7, 0.46, 0.52, 0.6, 0.6, 0.6, 0.6, 0.6, 0.6, 0.56,
            0.5, 0.48, 0.52, 0.5, 0.5, 0.48, 0.5, 0.47, 0.47, 0.48,
            0.52, 0.55, 0.56, 0.55, 0.56, 0.56, 0.55, 0.57, 0.6, 0.6,
            0.6, 0.6, 0.6, 0.6, 0.56, 0.57, 0.56, 0.58, 0.6, 0.6,
            0.6, 0.6, 0.6, 0.6, 0.6, 0.6, 0.6, 0.6, 0.6, 0.6, 0.6]
s115_q25 = [0.35, 0.33, 0.31, 0.32, 0.34, 0.31, 0.36, 0.38, 0.4, 0.36,
            0.36, 0.38, 0.36, 0.41, 0.38, 0.36, 0.37, 0.36, 0.36, 0.365,
            0.36, 0.37, 0.39, 0.45, 0.42, 0.44, 0.43, 0.42, 0.39, 0.39,
            0.44, 0.44, 0.44, 0.45, 0.46, 0.43, 0.44, 0.46, 0.45, 0.47,
            0.46, 0.5, 0.47, 0.48, 0.45, 0.48, 0.45, 0.43, 0.42, 0.45,
            0.46, 0.49, 0.51, 0.48, 0.51, 0.49, 0.53, 0.55, 0.56, 0.55, 0.54]
s115_q50 = [0.3, 0.28, 0.28, 0.27, 0.27, 0.26, 0.27, 0.28, 0.29, 0.3,
            0.32, 0.33, 0.32, 0.31, 0.31, 0.32, 0.31, 0.3, 0.3, 0.29,
            0.3, 0.3, 0.3, 0.31, 0.32, 0.32, 0.32, 0.31, 0.31, 0.31,
            0.32, 0.34, 0.36, 0.35, 0.34, 0.34, 0.33, 0.34, 0.33, 0.34,
            0.34, 0.35, 0.34, 0.35, 0.34, 0.35, 0.34, 0.33, 0.34, 0.34,
            0.34, 0.33, 0.34, 0.35, 0.35, 0.36, 0.37, 0.38, 0.39, 0.41, 0.41]
s115_q75 = [0.23, 0.23, 0.24, 0.23, 0.22, 0.21, 0.22, 0.23, 0.24, 0.24,
            0.25, 0.26, 0.26, 0.26, 0.25, 0.25, 0.25, 0.24, 0.24, 0.25,
            0.24, 0.24, 0.23, 0.24, 0.25, 0.25, 0.25, 0.26, 0.26, 0.26,
            0.27, 0.26, 0.27, 0.26, 0.26, 0.26, 0.27, 0.27, 0.26, 0.27,
            0.28, 0.27, 0.28, 0.28, 0.29, 0.28, 0.28, 0.29, 0.3, 0.31,
            0.31, 0.32, 0.32, 0.3, 0.3, 0.3, 0.31, 0.31, 0.31, 0.31, 0.31]
s115_q90 = [0.18, 0.18, 0.17, 0.17, 0.16, 0.17, 0.17, 0.18, 0.18, 0.19,
            0.2, 0.2, 0.21, 0.21, 0.22, 0.22, 0.22, 0.22, 0.21, 0.2,
            0.2, 0.2, 0.2, 0.19, 0.2, 0.21, 0.22, 0.23, 0.23, 0.23,
            0.24, 0.23, 0.23, 0.23, 0.22, 0.22, 0.22, 0.23, 0.22, 0.25,
            0.22, 0.23, 0.21, 0.22, 0.24, 0.22, 0.22, 0.2, 0.19, 0.21,
            0.29, 0.3, 0.28, 0.29, 0.26, 0.23, 0.21, 0.22, 0.23, 0.27, 0.27]
s115_q100 = [0.11, 0.11, 0.11, 0.11, 0.11, 0.11, 0.11, 0.11, 0.11, 0.11,
             0.11, 0.12, 0.12, 0.12, 0.12, 0.12, 0.12, 0.12, 0.12, 0.12,
             0.12, 0.12, 0.11, 0.11, 0.12, 0.13, 0.13, 0.12, 0.12, 0.12,
             0.13, 0.12, 0.12, 0.12, 0.12, 0.11, 0.11, 0.12, 0.12, 0.12,
             0.16, 0.14, 0.15, 0.11, 0.1, 0.12, 0.17, 0.17, 0.14, 0.13,
             0.13, 0.13, 0.13, 0.14, 0.24, 0.17, 0.16, 0.15, 0.14, 0.14, 0.13]
s115_debiet = [0.37, 0.2, 0.15, 0.19, 0.15, 0.14, 0.135, 0.13, 0.13, 0.13,
               0.13, 0.125, 0.32, 0.3, 0.2, 0.17, 0.155, 0.14, 0.14, 0.14,
               0.16, 0.135, 0.115, 0.125, 0.2, 0.255, 0.35, 0.26, 0.145, 0.25,
               0.44, 0.5, 0.305, 0.42, 0.39]
s115_basis = [0.13, 0.13, 0.13, 0.13, 0.13, 0.13, 0.128, 0.126, 0.125, 0.124,
              0.123, 0.122, 0.121, 0.12, 0.119, 0.118, 0.117, 0.116, 0.115, 0.114,
              0.113, 0.112, 0.111]

# L09_138
s138_q0 = [2.0, 1.9, 1.8, 1.39, 1.1, 1.4, 1.5, 1.8, 2.1, 1.9,
           2.2, 2.0, 1.9, 2.3, 2.1, 2.4, 2.2, 2.0, 1.9, 2.1,
           2.3, 2.0, 1.9, 2.2, 2.4, 2.1, 2.6, 2.3, 2.5, 2.2,
           2.4, 2.2, 2.0, 2.3, 2.1, 1.9, 2.0, 2.2, 1.8, 1.9,
           2.1, 1.7, 1.9, 1.8, 1.6, 1.7, 1.5, 1.42, 1.4, 1.36,
           1.6, 1.7, 1.55, 1.37, 1.6, 1.8, 1.7, 1.9, 1.8, 2.0, 1.9]
s138_q10 = [0.66, 0.85, 0.74, 0.93, 0.75, 0.65, 0.72, 0.72, 1.5, 0.88,
            1.0, 0.87, 1.27, 1.2, 0.93, 1.42, 1.1, 1.09, 1.15, 0.95,
            0.87, 0.93, 1.04, 1.09, 1.28, 1.11, 1.25, 1.2, 1.5, 0.92,
            1.5, 1.3, 1.05, 1.5, 1.37, 1.37, 1.23, 1.15, 1.24, 1.43,
            1.5, 1.26, 1.5, 1.35, 1.25, 1.42, 1.4, 1.5, 1.5, 1.36,
            1.5, 1.5, 1.5, 1.5, 1.5, 1.5, 1.5, 1.5, 1.5, 1.5, 1.5]
s138_q25 = [0.5, 0.55, 0.5, 0.5, 0.5, 0.48, 0.5, 0.52, 0.5, 0.58,
            0.6, 0.56, 0.55, 0.64, 0.62, 0.66, 0.72, 0.72, 0.74, 0.7,
            0.78, 0.65, 0.6, 0.68, 0.65, 0.7, 0.78, 0.68, 0.82, 0.78,
            0.85, 0.78, 0.76, 0.75, 1.0, 0.88, 0.84, 0.98, 1.12, 1.1,
            1.02, 1.12, 0.98, 1.07, 1.0, 0.98, 1.0, 1.04, 1.0, 0.98,
            1.06, 1.0, 1.0, 0.94, 0.96, 0.95, 1.03, 1.07, 1.14, 1.1, 1.06]
s138_q50 = [0.44, 0.44, 0.43, 0.43, 0.42, 0.42, 0.41, 0.4, 0.39, 0.39,
            0.4, 0.41, 0.42, 0.44, 0.46, 0.48, 0.5, 0.52, 0.52, 0.5,
            0.5, 0.49, 0.5, 0.52, 0.51, 0.52, 0.52, 0.54, 0.55, 0.55,
            0.56, 0.57, 0.57, 0.6, 0.6, 0.6, 0.6, 0.61, 0.6, 0.62,
            0.6, 0.64, 0.63, 0.68, 0.62, 0.6, 0.62, 0.64, 0.66, 0.66,
            0.67, 0.68, 0.7, 0.72, 0.7, 0.7, 0.72, 0.74, 0.73, 0.72, 0.73]
s138_q75 = [0.35, 0.36, 0.36, 0.37, 0.37, 0.38, 0.38, 0.38, 0.38, 0.38,
            0.38, 0.38, 0.38, 0.38, 0.38, 0.39, 0.39, 0.4, 0.4, 0.4,
            0.4, 0.4, 0.41, 0.41, 0.42, 0.42, 0.42, 0.41, 0.4, 0.4,
            0.41, 0.42, 0.42, 0.41, 0.41, 0.4, 0.4, 0.42, 0.44, 0.43,
            0.42, 0.45, 0.44, 0.45, 0.43, 0.45, 0.47, 0.44, 0.44, 0.44,
            0.46, 0.5, 0.52, 0.5, 0.55, 0.5, 0.47, 0.44, 0.48, 0.45, 0.48]
s138_q90 = [0.25, 0.25, 0.26, 0.27, 0.27, 0.28, 0.28, 0.28, 0.28, 0.28,
            0.29, 0.3, 0.3, 0.3, 0.3, 0.3, 0.3, 0.3, 0.3, 0.3,
            0.3, 0.3, 0.3, 0.3, 0.3, 0.3, 0.3, 0.3, 0.3, 0.3,
            0.28, 0.28, 0.3, 0.3, 0.29, 0.3, 0.3, 0.31, 0.3, 0.32,
            0.31, 0.32, 0.31, 0.33, 0.34, 0.35, 0.34, 0.35, 0.36, 0.38,
            0.4, 0.41, 0.42, 0.42, 0.4, 0.38, 0.36, 0.35, 0.34, 0.33, 0.33]
s138_q100 = [0.13, 0.15, 0.16, 0.17, 0.17, 0.18, 0.18, 0.18, 0.18, 0.12,
             0.2, 0.2, 0.2, 0.21, 0.21, 0.21, 0.21, 0.21, 0.22, 0.22,
             0.22, 0.22, 0.22, 0.22, 0.22, 0.22, 0.22, 0.22, 0.22, 0.22,
             0.24, 0.23, 0.23, 0.23, 0.22, 0.23, 0.23, 0.23, 0.22, 0.22,
             0.21, 0.2, 0.19, 0.2, 0.2, 0.2, 0.25, 0.26, 0.27, 0.22,
             0.26, 0.27, 0.28, 0.29, 0.3, 0.31, 0.31, 0.3, 0.28, 0.27, 0.27]
s138_debiet = [0.89, 0.5, 0.5, 0.5, 0.62, 0.59, 0.5, 0.45, 0.42, 0.4,
               0.39, 0.39, 0.53, 0.48, 0.44, 0.42, 0.41, 0.41, 0.41, 0.47,
               0.45, 0.42, 0.43, 0.43, 0.44, 0.54, 0.46, 0.47, 0.46, 0.7,
               1.02, 1.02, 0.66, 1.26, 1.17]
s138_basis = [0.35, 0.355, 0.36, 0.36, 0.365, 0.37, 0.37, 0.375, 0.38, 0.38,
              0.385, 0.385, 0.39, 0.39, 0.395, 0.4, 0.4, 0.405, 0.41, 0.41,
              0.415, 0.42, 0.42, 0.425, 0.43, 0.435, 0.44, 0.445, 0.45]

# --- per-panel configuration ------------------------------------------
quantiles = [
    [s488_q0, s488_q10, s488_q25, s488_q50, s488_q75, s488_q90, s488_q100],
    [s423_q0, s423_q10, s423_q25, s423_q50, s423_q75, s423_q90, s423_q100],
    [s444_q0, s444_q10, s444_q25, s444_q50, s444_q75, s444_q90, s444_q100],
    [s007_q0, s007_q10, s007_q25, s007_q50, s007_q75, s007_q90, s007_q100],
    [s00c_q0, s00c_q10, s00c_q25, s00c_q50, s00c_q75, s00c_q90, s00c_q100],
    [s036_q0, s036_q10, s036_q25, s036_q50, s036_q75, s036_q90, s036_q100],
    [s404_q0, s404_q10, s404_q25, s404_q50, s404_q75, s404_q90, s404_q100],
    [s286_q0, s286_q10, s286_q25, s286_q50, s286_q75, s286_q90, s286_q100],
    [s115_q0, s115_q10, s115_q25, s115_q50, s115_q75, s115_q90, s115_q100],
    [s138_q0, s138_q10, s138_q25, s138_q50, s138_q75, s138_q90, s138_q100],
]
debiets = [s488_debiet, s423_debiet, s444_debiet, s007_debiet, s00c_debiet,
           s036_debiet, s404_debiet, s286_debiet, s115_debiet, s138_debiet]
basises = [s488_basis, s423_basis, s444_basis, s007_basis, s00c_basis,
           s036_basis, s404_basis, s286_basis, s115_basis, s138_basis]

ymaxs = [8.5, 5.52, 1.96, 3.29, 0.389, 1.63, 6.61, 1.335, 0.57, 1.445]
ysteps = [1, 1, 0.2, 0.5, 0.05, 0.2, 1, 0.2, 0.1, 0.2]
ydec = [0, 0, 1, 1, 2, 1, 0, 1, 1, 1]

line_cols = ['#0d3a5f', '#1b62aa', '#4a98cf', '#c29595', '#ef3a2a', '#c01a28', '#700a1c']
debiet_col = '#80a2d7'
basis_col = '#142a4d'
edge_col = '#1c2f4f'


def tint(c, f=0.5):
    r, g, b = to_rgb(c)
    return (r + (1 - r) * f, g + (1 - g) * f, b + (1 - b) * f)


# --- layout (pixel coordinates of the reference) -----------------------
W, H = 920, 1166
fig = plt.figure(figsize=(W / 100, H / 100), dpi=100)
rows = [(28, 217), (261, 452), (496, 687), (730, 921), (964, 1154)]
lefts = [33, 503, 43, 512, 48, 512, 33, 512, 43, 512]
rights = [383, 852]
ylab_x = [16, 487]
leg_x = [396, 865]

ticks_pos = [(np.datetime64(d) - start).astype(int) for d in tick_dates]

ov = fig.add_axes([0, 0, 1, 1])
ov.set_xlim(0, W)
ov.set_ylim(H, 0)
ov.axis('off')

for i in range(10):
    r, c = i // 2, i % 2
    top, bot = rows[r]
    L, R = lefts[i], rights[c]
    ax = fig.add_axes([L / W, 1 - bot / H, (R - L) / W, (bot - top) / H])

    # historical percentiles
    for k in range(6, -1, -1):
        vals = quantiles[i][k]
        edges = np.arange(len(vals) + 1)
        ax.stairs(vals, edges, baseline=None, color=line_cols[k], lw=0.6, zorder=2,
                  path_effects=[pe.Stroke(linewidth=1.35, foreground=tint(line_cols[k], 0.6)),
                                pe.Normal()])

    # observations
    d = debiets[i]
    ed = np.arange(len(d) + 1)
    ax.stairs(d, ed, baseline=0, fill=True, color=debiet_col, alpha=0.75, lw=0, zorder=3)
    ax.stairs(d, ed, baseline=0, fill=False, color=edge_col, lw=0.7, zorder=4)
    b = basises[i]
    eb = np.arange(len(b) + 1)
    ax.stairs(b, eb, baseline=0, fill=True, color=basis_col, alpha=0.87, lw=0, zorder=5)
    ax.stairs(b, eb, baseline=0, fill=False, color=edge_col, lw=0.7, zorder=6)

    ax.set_xlim(-0.3, 60.95)
    ax.set_ylim(0, ymaxs[i])
    yt = np.arange(0, ymaxs[i] + 1e-9, ysteps[i])
    ax.set_yticks(yt)
    ax.set_yticklabels([f'{v:.{ydec[i]}f}' for v in yt])
    ax.set_xticks(ticks_pos)
    ax.set_xticklabels(tick_labels)
    ax.tick_params(axis='y', labelsize=7.4, labelcolor='#4d4d4d', length=2.2, width=0.6,
                   color='#333333', pad=1.2)
    ax.tick_params(axis='x', labelsize=4.9, labelcolor='#4d4d4d', length=1.8, width=0.6,
                   color='#333333', pad=0.6)
    ax.grid(True, color='#b5b5b5', ls=(0, (4, 3)), lw=0.6)
    ax.set_axisbelow(True)
    for s in ax.spines.values():
        s.set_color('#4d4d4d')
        s.set_linewidth(0.9)
    ax.set_title(titles[i], loc='left', fontsize=11.3, pad=4, color='#1a1a1a')
    ax.set_ylabel('m?/s', fontsize=8, color='#1a1a1a')
    ax.yaxis.set_label_coords((ylab_x[c] - L) / (R - L), 0.5)

    # legend
    lx = leg_x[c]
    ov.text(lx, top + 7, 'observatie', fontsize=6.2, va='center', color='#1a1a1a')
    ov.add_patch(Rectangle((lx + 2, top + 13), 10, 11.5, fc=tint(debiet_col, 0.2), ec=edge_col, lw=0.8))
    ov.add_patch(Rectangle((lx + 2, top + 24.5), 10, 11.5, fc='#283e60', ec=edge_col, lw=0.8))
    ov.text(lx + 17, top + 18.5, 'debiet', fontsize=4.9, va='center', color='#1a1a1a')
    ov.text(lx + 17, top + 30, 'basisdebiet', fontsize=4.9, va='center', color='#1a1a1a')
    ov.text(lx, top + 63, 'hist. waarden', fontsize=6.2, va='center', color='#1a1a1a')
    ov.text(lx, top + 72, '(' + hist_years[i] + ')', fontsize=6.2, va='center', color='#1a1a1a')
    for k in range(7):
        y0 = top + 82 + k * 11.9
        ov.add_patch(Rectangle((lx + 2, y0), 10, 11.9, fc='#333333', ec=line_cols[k], lw=1.0))
        ov.text(lx + 17, y0 + 6, pct_labels[k], fontsize=4.9, va='center', color='#1a1a1a')

fig.savefig('out.png', dpi=100)
